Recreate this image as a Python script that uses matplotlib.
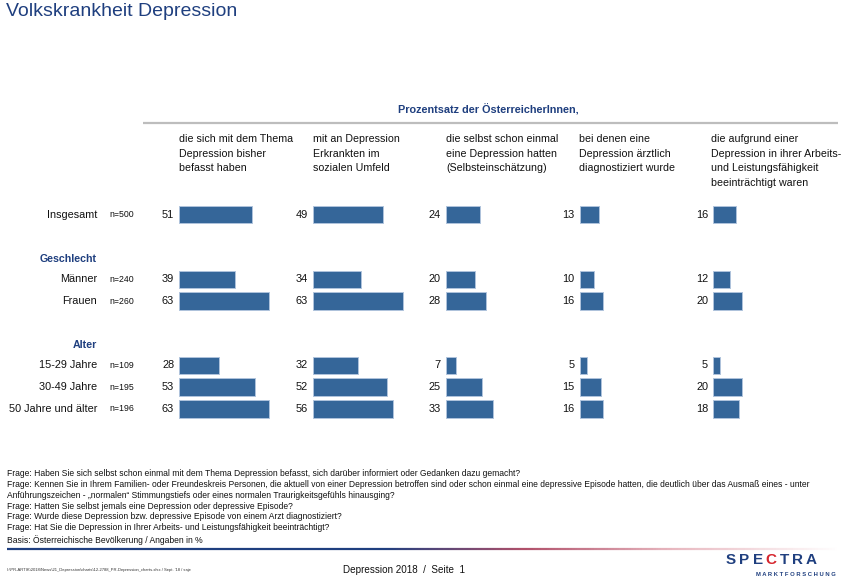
import numpy as np
import matplotlib
matplotlib.use("Agg")
import matplotlib.pyplot as plt
from matplotlib.collections import LineCollection
from matplotlib.colors import LinearSegmentedColormap

plt.rcParams['font.family'] = ['Liberation Sans', 'DejaVu Sans']

# ---------------- data ----------------
title = "Volkskrankheit Depression"
super_header = "Prozentsatz der ÖsterreicherInnen,"
col_headers = [
    "die sich mit dem Thema\nDepression bisher\nbefasst haben",
    "mit an Depression\nErkrankten im\nsozialen Umfeld",
    "die selbst schon einmal\neine Depression hatten\n(Selbsteinschätzung)",
    "bei denen eine\nDepression ärztlich\ndiagnostiziert wurde",
    "die aufgrund einer\nDepression in ihrer Arbeits-\nund Leistungsfähigkeit\nbeeinträchtigt waren",
]
categories = ["Insgesamt", "Männer", "Frauen", "15-29 Jahre", "30-49 Jahre", "50 Jahre und älter"]
sample_sizes = ["n=500", "n=240", "n=260", "n=109", "n=195", "n=196"]
group_headers = ["Geschlecht", "Alter"]

befasst = [51, 39, 63, 28, 53, 63]
umfeld = [49, 34, 63, 32, 52, 56]
selbst = [24, 20, 28, 7, 25, 33]
diagnostiziert = [13, 10, 16, 5, 15, 16]
beeintraechtigt = [16, 12, 20, 5, 20, 18]
series = [befasst, umfeld, selbst, diagnostiziert, beeintraechtigt]

footnotes = [
    "Frage: Haben Sie sich selbst schon einmal mit dem Thema Depression befasst, sich darüber informiert oder Gedanken dazu gemacht?",
    "Frage: Kennen Sie in Ihrem Familien- oder Freundeskreis Personen, die aktuell von einer Depression betroffen sind oder schon einmal eine depressive Episode hatten, die deutlich über das Ausmaß eines - unter",
    "Anführungszeichen - „normalen“ Stimmungstiefs oder eines normalen Traurigkeitsgefühls hinausging?",
    "Frage: Hatten Sie selbst jemals eine Depression oder depressive Episode?",
    "Frage: Wurde diese Depression bzw. depressive Episode von einem Arzt diagnostiziert?",
    "Frage: Hat Sie die Depression in Ihrer Arbeits- und Leistungsfähigkeit beeinträchtigt?",
]
basis = "Basis: Österreichische Bevölkerung / Angaben in %"
footer_center = "Depression 2018  /  Seite  1"
footer_path = "I:\\PR-ARTIK\\2018\\News\\21_Depression\\charts\\12-2788_PR-Depression_charts.xlsx / Sept. '18 / saje"

# ---------------- layout (pixels) ----------------
W, H = 844, 578
NAVY = "#1F3F7F"
BAR = "#356699"
TXT = "#111111"

col_x = [179.3, 312.7, 446.0, 580.0, 713.3]
head_x = [179.3, 312.7, 446.0, 579.3, 711.0]
row_y = [214.5, 279.5, 301.0, 365.5, 387.0, 408.7]
group_y = [258.5, 345.0]
px_per_unit = 1.43
bar_h = 17.6

fig = plt.figure(figsize=(W / 100, H / 100), dpi=100)
bg = fig.add_axes([0, 0, 1, 1])
bg.set_xlim(0, W)
bg.set_ylim(H, 0)
bg.axis('off')

# title
bg.text(6, 12, title, fontsize=14.0, color=NAVY, va='center', ha='left')

# super header + grey rule
bg.text(488.5, 110, super_header, fontsize=7.8, fontweight='bold', color=NAVY,
        ha='center', va='center')
bg.plot([143, 838], [123.3, 123.3], color="#BDBDBD", lw=1.6, solid_capstyle='butt')

# column headers
for x, hdr in zip(head_x, col_headers):
    for k, line in enumerate(hdr.split("\n")):
        bg.text(x, 139 + k * 14.6, line, fontsize=7.7, color=TXT, ha='left', va='center')

# row labels
for y, cat, n in zip(row_y, categories, sample_sizes):
    bg.text(97, y, cat, fontsize=7.8, color=TXT, ha='right', va='center')
    bg.text(109, y, n, fontsize=6.3, color=TXT, ha='left', va='center')
for y, g in zip(group_y, group_headers):
    bg.text(97, y, g, fontsize=7.7, fontweight='bold', color=NAVY, ha='right', va='center')

# bar columns
y_top, y_bot = 195, 425
for x0, vals in zip(col_x, series):
    wpx = W - x0 - 1 if x0 + 130 > W else 130
    ax = fig.add_axes([x0 / W, (H - y_bot) / H, wpx / W, (y_bot - y_top) / H])
    ax.set_xlim(0, wpx / px_per_unit)
    ax.set_ylim(y_bot, y_top)
    ax.barh(row_y, vals, height=bar_h, color=BAR, edgecolor="#AFC3DC", linewidth=0.7)
    ax.axis('off')
    for y, v in zip(row_y, vals):
        ax.annotate(str(v), xy=(0, y), xytext=(-3.7, 0), textcoords='offset points',
                    ha='right', va='center', fontsize=7.9, color=TXT)

# footnotes
for k, line in enumerate(footnotes):
    bg.text(7, 474 + k * 10.7, line, fontsize=6.15, color=TXT, ha='left', va='center')
bg.text(7, 540, basis, fontsize=6.15, color=TXT, ha='left', va='center')

# gradient rule
xs = np.linspace(7, 843, 300)
segs = np.array([[[xs[i], 549], [xs[i + 1], 549]] for i in range(len(xs) - 1)])
cmap = LinearSegmentedColormap.from_list(
    "rule", [(0, NAVY), (0.45, NAVY), (0.62, "#B0506A"), (0.8, "#E8B8C0"), (1.0, "#FFFFFF")])
lc = LineCollection(segs, colors=cmap(np.linspace(0, 1, len(segs))), linewidths=1.6)
bg.add_collection(lc)

# footer
bg.text(404, 570, footer_center, fontsize=7.1, color=TXT, ha='center', va='center')
bg.text(7, 570, footer_path, fontsize=3.0, color="#333333", ha='left', va='center')

# logo
logo_letters = ["S", "P", "E", "C", "T", "R", "A"]
logo_colors = [NAVY, NAVY, NAVY, "#D6262E", NAVY, NAVY, NAVY]
for k, (ch, c) in enumerate(zip(logo_letters, logo_colors)):
    bg.text(731 + k * 13.3, 560, ch, fontsize=11, fontweight='bold', color=c,
            ha='center', va='center')
bg.text(836, 574, "M A R K T F O R S C H U N G", fontsize=4.2, fontweight='bold',
        color=NAVY, ha='right', va='center')

fig.savefig("out.png", dpi=100)
